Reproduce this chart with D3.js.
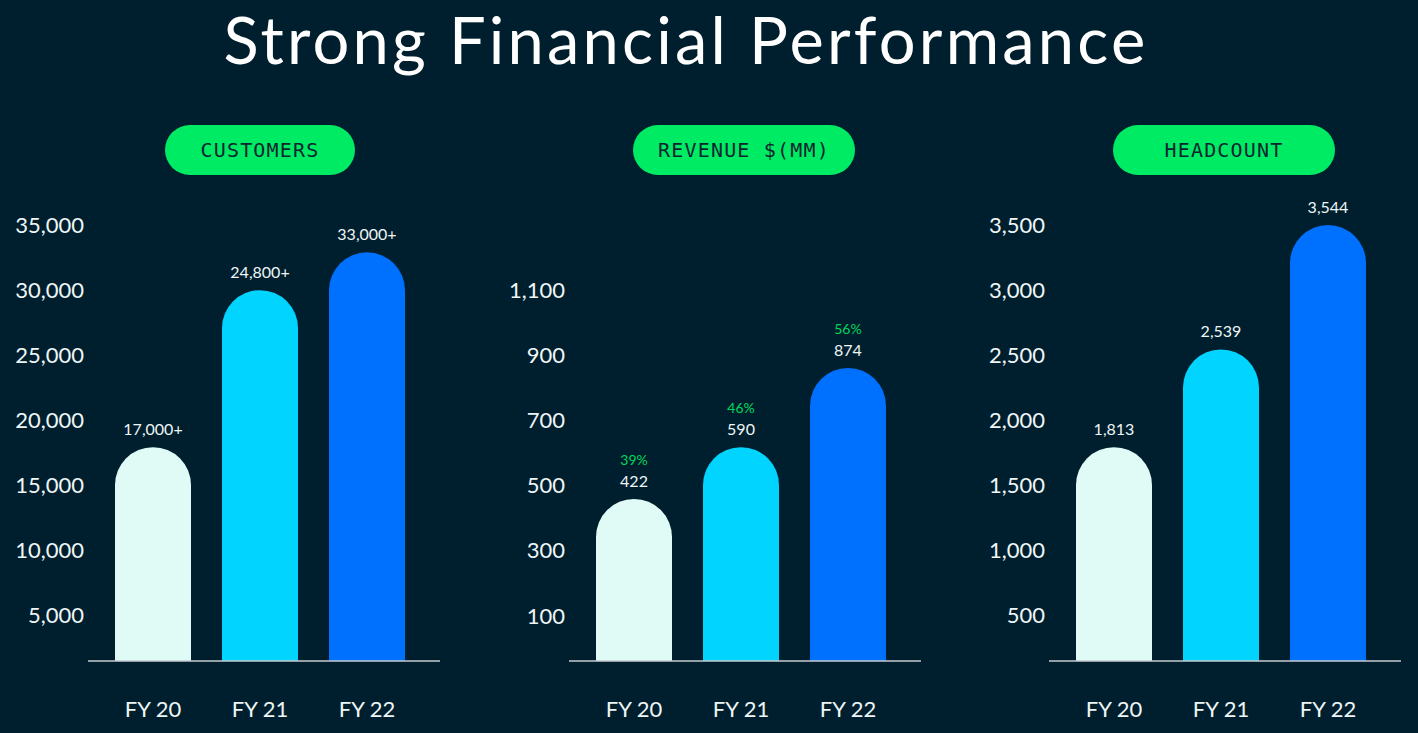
<!DOCTYPE html>
<html>
<head>
<meta charset="utf-8">
<script src="https://cdn.jsdelivr.net/npm/d3@7"></script>
<style>
  html, body { margin: 0; padding: 0; background: #001f2e; }
  svg { display: block; }
</style>
</head>
<body>
<div id="chart"></div>
<script>
// categories + values
const years = ["FY 20", "FY 21", "FY 22"];

const customerBars = [17950, 30000, 32900];   // drawn heights
const customerLabels = ["17,000+", "24,800+", "33,000+"];
const customerTicks = [5000, 10000, 15000, 20000, 25000, 30000, 35000];

const revenueBars = [459, 618, 861];
const revenueLabels = ["422", "590", "874"];
const revenueGrowth = ["39%", "46%", "56%"];
const revenueTicks = [100, 300, 500, 700, 900, 1100];

const headcountBars = [1795, 2545, 3500];
const headcountLabels = ["1,813", "2,539", "3,544"];
const headcountTicks = [500, 1000, 1500, 2000, 2500, 3000, 3500];

const barColors = ["#e0faf5", "#00d4ff", "#0070ff"];

const W = 1418, H = 733;
const baseY = 661;
const font = "Lato, 'Open Sans', sans-serif";

const svg = d3.select("#chart").append("svg")
  .attr("width", W)
  .attr("height", H);

svg.append("rect").attr("width", W).attr("height", H).attr("fill", "#001f2e");

svg.append("text")
  .attr("x", 686)
  .attr("y", 64)
  .attr("text-anchor", "middle")
  .attr("fill", "#ffffff")
  .style("font-family", font)
  .style("font-size", "65px")
  .style("font-weight", 400)
  .style("letter-spacing", "3.2px")
  .text("Strong Financial Performance");

const panels = [
  {title: "CUSTOMERS", dx: 0, pillW: 190, bars: customerBars, labels: customerLabels, growth: null,
   ticks: customerTicks, domain: [0, 35000], range: [681, 225]},
  {title: "REVENUE $(MM)", dx: 481, pillW: 222, bars: revenueBars, labels: revenueLabels, growth: revenueGrowth,
   ticks: revenueTicks, domain: [100, 1100], range: [616, 290]},
  {title: "HEADCOUNT", dx: 961, pillW: 222, bars: headcountBars, labels: headcountLabels, growth: null,
   ticks: headcountTicks, domain: [0, 3500], range: [681, 225]}
];

panels.forEach(p => {
  const g = svg.append("g").attr("transform", `translate(${p.dx},0)`);

  const x = d3.scaleBand()
    .domain(years)
    .range([99.5, 420.5])
    .paddingInner(0.2897)
    .paddingOuter(0.1449);

  const y = d3.scaleLinear().domain(p.domain).range(p.range);

  // pill header
  const pillCx = p.title == "CUSTOMERS" ? 260 : 263;
  g.append("rect")
    .attr("x", pillCx - p.pillW / 2)
    .attr("y", 125)
    .attr("width", p.pillW)
    .attr("height", 50)
    .attr("rx", 25)
    .attr("fill", "#00eb64");
  g.append("text")
    .attr("x", pillCx)
    .attr("y", 150)
    .attr("dy", "0.35em")
    .attr("text-anchor", "middle")
    .attr("fill", "#0d2630")
    .style("font-family", "'DejaVu Sans Mono', 'Liberation Mono', monospace")
    .style("font-size", "20px")
    .style("letter-spacing", "1.2px")
    .text(p.title);

  // y axis, labels only
  const yAxis = g.append("g")
    .attr("transform", "translate(88,0)")
    .call(d3.axisLeft(y).tickValues(p.ticks).tickSize(0).tickPadding(4).tickFormat(d3.format(",")));
  yAxis.select(".domain").remove();
  yAxis.selectAll("text")
    .attr("fill", "#eef6f6")
    .style("font-family", font)
    .style("font-size", "22px");

  // bars with rounded caps
  const r = x.bandwidth() / 2;
  g.selectAll(".bar")
    .data(p.bars)
    .enter()
    .append("path")
      .attr("class", "bar")
      .attr("fill", (d, i) => barColors[i])
      .attr("d", (d, i) => {
        const x0 = x(years[i]), x1 = x0 + x.bandwidth(), top = y(d);
        return `M${x0},${baseY} L${x0},${top + r} A${r},${r} 0 0 1 ${x1},${top + r} L${x1},${baseY} Z`;
      });

  // value labels
  g.selectAll(".val")
    .data(p.labels)
    .enter()
    .append("text")
      .attr("x", (d, i) => x(years[i]) + r)
      .attr("y", (d, i) => y(p.bars[i]) - 18)
      .attr("dy", "0.35em")
      .attr("text-anchor", "middle")
      .attr("fill", "#eef6f6")
      .style("font-family", font)
      .style("font-size", "16px")
      .text(d => d);

  if (p.growth) {
    g.selectAll(".growth")
      .data(p.growth)
      .enter()
      .append("text")
        .attr("x", (d, i) => x(years[i]) + r)
        .attr("y", (d, i) => y(p.bars[i]) - 39)
        .attr("dy", "0.35em")
        .attr("text-anchor", "middle")
        .attr("fill", "#00d65a")
        .style("font-family", font)
        .style("font-size", "14px")
        .text(d => d);
  }

  // baseline + year labels
  const xAxis = g.append("g")
    .attr("transform", `translate(0,${baseY})`)
    .call(d3.axisBottom(x).tickSize(0).tickPadding(40));
  xAxis.select(".domain").remove();
  xAxis.selectAll("text")
    .attr("fill", "#eef6f6")
    .style("font-family", font)
    .style("font-size", "22px");

  g.append("line")
    .attr("x1", 88).attr("x2", 440)
    .attr("y1", baseY).attr("y2", baseY)
    .attr("stroke", "#c4ccd0")
    .attr("stroke-width", 1.5);
});
</script>
</body>
</html>
